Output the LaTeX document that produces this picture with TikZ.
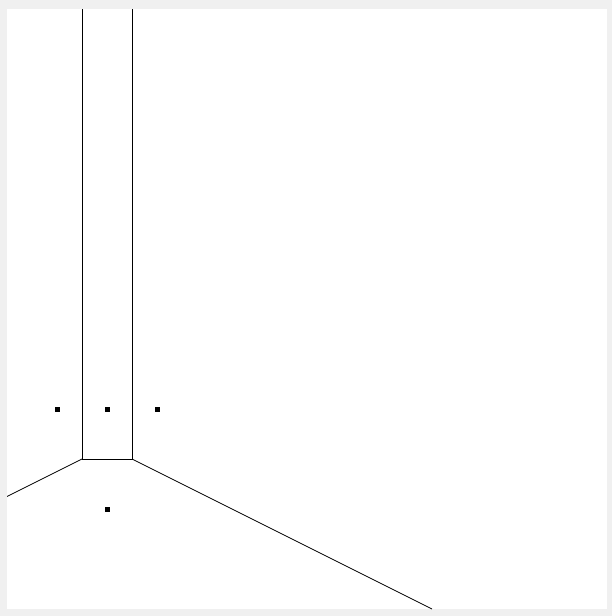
\documentclass[tikz,border=0pt]{standalone}
\begin{document}
\begin{tikzpicture}[x=1pt,y=-1pt,
  edge/.style={line width=0.7pt, black},
  site/.style={fill=black, minimum size=5pt, inner sep=0pt, outer sep=0pt, rectangle}]
\fill[black!6] (0,0) rectangle (612,616);
\fill[white] (7,9) rectangle (606.5,609);
\useasboundingbox (0,0) rectangle (612,616);
\begin{scope}
\clip (7,9) rectangle (606.5,609);
\coordinate (v1) at (82,459);
\coordinate (v2) at (132,459);
\coordinate (t1) at (82,9);
\coordinate (t2) at (132,9);
\coordinate (e1) at (7,496.5);
\coordinate (e2) at (432,609);
\draw[edge] (t1) -- (v1) -- (v2) -- (t2);
\draw[edge] (v1) -- (e1);
\draw[edge] (v2) -- (e2);
\end{scope}
\node[site] (s1) at (57,409) {};
\node[site] (s2) at (107,409) {};
\node[site] (s3) at (157,409) {};
\node[site] (s4) at (107,509) {};
\end{tikzpicture}
\end{document}
